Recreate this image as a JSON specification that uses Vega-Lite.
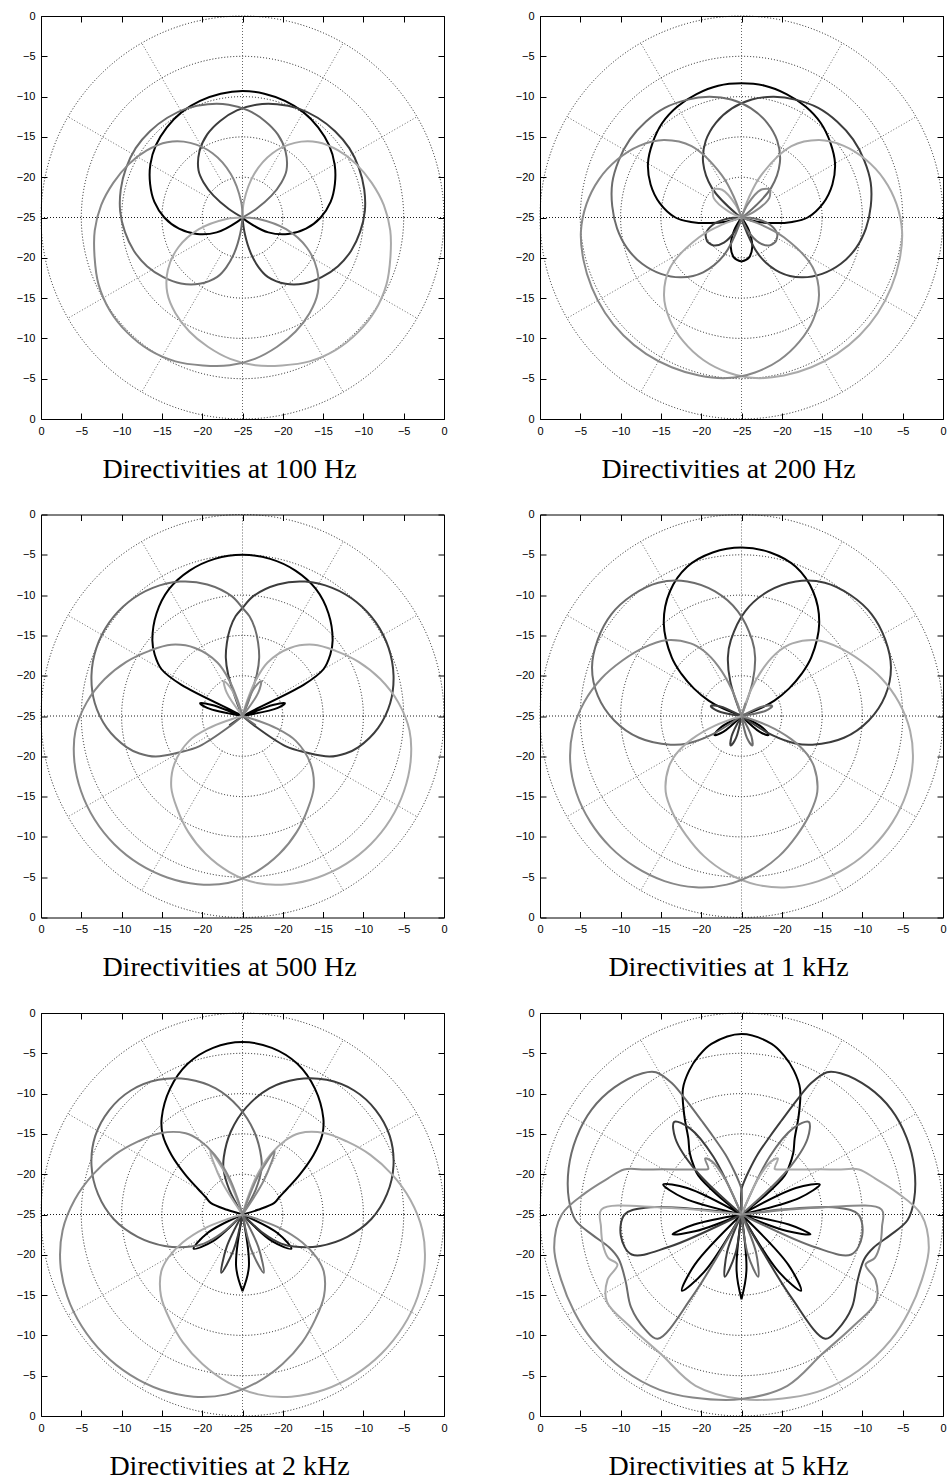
{
"$schema": "https://vega.github.io/schema/vega-lite/v6.json",
"background": "white",
"padding": {"left": 15, "top": 9, "right": 0, "bottom": 0},
"config": {
  "view": {"stroke": "#000000", "strokeWidth": 1},
  "axis": {"labelFont": "Liberation Sans", "labelFontSize": 11, "labelColor": "#000000", "tickColor": "#000000", "tickSize": -6, "tickWidth": 1, "labelPadding": 12, "domain": false, "grid": false, "labelFlush": false, "labelOverlap": false, "labelBound": false},
  "axisBottom": {"titleFont": "Liberation Serif", "titleFontSize": 28, "titleFontWeight": "normal", "titleColor": "#000000", "titleX": 188, "titleY": 58, "titleAlign": "center", "titleBaseline": "alphabetic"}
},
"datasets": {
  "rings": [{"r":5},{"r":10},{"r":15},{"r":20},{"r":25}],
  "spokes": [{"x1":0,"y1":-25,"x2":0,"y2":25},{"x1":-25,"y1":0,"x2":25,"y2":0},
    {"x1":2.5,"y1":4.33,"x2":12.5,"y2":21.65},{"x1":-2.5,"y1":-4.33,"x2":-12.5,"y2":-21.65},
    {"x1":4.33,"y1":2.5,"x2":21.65,"y2":12.5},{"x1":-4.33,"y1":-2.5,"x2":-21.65,"y2":-12.5},
    {"x1":4.33,"y1":-2.5,"x2":21.65,"y2":-12.5},{"x1":-4.33,"y1":2.5,"x2":-21.65,"y2":12.5},
    {"x1":2.5,"y1":-4.33,"x2":12.5,"y2":-21.65},{"x1":-2.5,"y1":4.33,"x2":-12.5,"y2":21.65}],
  "d100": [
{"c":"A","t":-135,"v":-25},{"c":"A","t":-130,"v":-24.2},{"c":"A","t":-120,"v":-21.3},{"c":"A","t":-110,"v":-19},{"c":"A","t":-100,"v":-17},{"c":"A","t":-90,"v":-15.3},{"c":"A","t":-80,"v":-13.9},{"c":"A","t":-70,"v":-12.8},{"c":"A","t":-60,"v":-11.8},{"c":"A","t":-50,"v":-11},{"c":"A","t":-40,"v":-10.4},{"c":"A","t":-30,"v":-9.9},{"c":"A","t":-20,"v":-9.6},{"c":"A","t":-10,"v":-9.4},{"c":"A","t":0,"v":-9.3},{"c":"A","t":10,"v":-9.4},{"c":"A","t":20,"v":-9.6},{"c":"A","t":30,"v":-9.9},{"c":"A","t":40,"v":-10.4},{"c":"A","t":50,"v":-11},{"c":"A","t":60,"v":-11.8},{"c":"A","t":70,"v":-12.8},{"c":"A","t":80,"v":-13.9},{"c":"A","t":90,"v":-15.3},{"c":"A","t":100,"v":-17},{"c":"A","t":110,"v":-19},{"c":"A","t":120,"v":-21.3},{"c":"A","t":130,"v":-24.2},{"c":"A","t":135,"v":-25},
{"c":"B","t":-61,"v":-25},{"c":"B","t":-58,"v":-23},{"c":"B","t":-53,"v":-20.5},{"c":"B","t":-48,"v":-18.5},{"c":"B","t":-43,"v":-17},{"c":"B","t":-33,"v":-15.2},{"c":"B","t":-23,"v":-13.8},{"c":"B","t":-13,"v":-12.7},{"c":"B","t":-3,"v":-11.7},{"c":"B","t":7,"v":-10.9},{"c":"B","t":17,"v":-10.3},{"c":"B","t":27,"v":-9.8},{"c":"B","t":37,"v":-9.5},{"c":"B","t":47,"v":-9.3},{"c":"B","t":57,"v":-9.2},{"c":"B","t":67,"v":-9.3},{"c":"B","t":77,"v":-9.5},{"c":"B","t":87,"v":-9.8},{"c":"B","t":97,"v":-10.3},{"c":"B","t":107,"v":-10.9},{"c":"B","t":117,"v":-11.7},{"c":"B","t":127,"v":-12.7},{"c":"B","t":137,"v":-13.8},{"c":"B","t":147,"v":-15.2},{"c":"B","t":157,"v":-17},{"c":"B","t":162,"v":-18.5},{"c":"B","t":167,"v":-20.5},{"c":"B","t":172,"v":-23},{"c":"B","t":175,"v":-25},
{"c":"Bm","t":61,"v":-25},{"c":"Bm","t":58,"v":-23},{"c":"Bm","t":53,"v":-20.5},{"c":"Bm","t":48,"v":-18.5},{"c":"Bm","t":43,"v":-17},{"c":"Bm","t":33,"v":-15.2},{"c":"Bm","t":23,"v":-13.8},{"c":"Bm","t":13,"v":-12.7},{"c":"Bm","t":3,"v":-11.7},{"c":"Bm","t":-7,"v":-10.9},{"c":"Bm","t":-17,"v":-10.3},{"c":"Bm","t":-27,"v":-9.8},{"c":"Bm","t":-37,"v":-9.5},{"c":"Bm","t":-47,"v":-9.3},{"c":"Bm","t":-57,"v":-9.2},{"c":"Bm","t":-67,"v":-9.3},{"c":"Bm","t":-77,"v":-9.5},{"c":"Bm","t":-87,"v":-9.8},{"c":"Bm","t":-97,"v":-10.3},{"c":"Bm","t":-107,"v":-10.9},{"c":"Bm","t":-117,"v":-11.7},{"c":"Bm","t":-127,"v":-12.7},{"c":"Bm","t":-137,"v":-13.8},{"c":"Bm","t":-147,"v":-15.2},{"c":"Bm","t":-157,"v":-17},{"c":"Bm","t":-162,"v":-18.5},{"c":"Bm","t":-167,"v":-20.5},{"c":"Bm","t":-172,"v":-23},{"c":"Bm","t":-175,"v":-25},
{"c":"C","t":0,"v":-25},{"c":"C","t":5,"v":-23},{"c":"C","t":15,"v":-19.4},{"c":"C","t":25,"v":-16.2},{"c":"C","t":35,"v":-13.7},{"c":"C","t":45,"v":-11.8},{"c":"C","t":55,"v":-10.5},{"c":"C","t":65,"v":-9.4},{"c":"C","t":75,"v":-8.4},{"c":"C","t":85,"v":-7.4},{"c":"C","t":95,"v":-6.6},{"c":"C","t":105,"v":-6},{"c":"C","t":115,"v":-5.3},{"c":"C","t":125,"v":-4.9},{"c":"C","t":135,"v":-4.8},{"c":"C","t":145,"v":-4.9},{"c":"C","t":155,"v":-5.3},{"c":"C","t":165,"v":-6},{"c":"C","t":175,"v":-6.6},{"c":"C","t":185,"v":-7.4},{"c":"C","t":195,"v":-8.4},{"c":"C","t":205,"v":-9.4},{"c":"C","t":215,"v":-10.5},{"c":"C","t":225,"v":-11.8},{"c":"C","t":235,"v":-13.7},{"c":"C","t":245,"v":-16.2},{"c":"C","t":255,"v":-19.4},{"c":"C","t":265,"v":-23},{"c":"C","t":270,"v":-25},
{"c":"Cm","t":0,"v":-25},{"c":"Cm","t":-5,"v":-23},{"c":"Cm","t":-15,"v":-19.4},{"c":"Cm","t":-25,"v":-16.2},{"c":"Cm","t":-35,"v":-13.7},{"c":"Cm","t":-45,"v":-11.8},{"c":"Cm","t":-55,"v":-10.5},{"c":"Cm","t":-65,"v":-9.4},{"c":"Cm","t":-75,"v":-8.4},{"c":"Cm","t":-85,"v":-7.4},{"c":"Cm","t":-95,"v":-6.6},{"c":"Cm","t":-105,"v":-6},{"c":"Cm","t":-115,"v":-5.3},{"c":"Cm","t":-125,"v":-4.9},{"c":"Cm","t":-135,"v":-4.8},{"c":"Cm","t":-145,"v":-4.9},{"c":"Cm","t":-155,"v":-5.3},{"c":"Cm","t":-165,"v":-6},{"c":"Cm","t":-175,"v":-6.6},{"c":"Cm","t":-185,"v":-7.4},{"c":"Cm","t":-195,"v":-8.4},{"c":"Cm","t":-205,"v":-9.4},{"c":"Cm","t":-215,"v":-10.5},{"c":"Cm","t":-225,"v":-11.8},{"c":"Cm","t":-235,"v":-13.7},{"c":"Cm","t":-245,"v":-16.2},{"c":"Cm","t":-255,"v":-19.4},{"c":"Cm","t":-265,"v":-23},{"c":"Cm","t":-270,"v":-25}
  ],
  "d200": [
{"c":"A","t":-180,"v":-19.55},{"c":"A","t":-170,"v":-19.9},{"c":"A","t":-160,"v":-21.1},{"c":"A","t":-150,"v":-23.2},{"c":"A","t":-145,"v":-25},{"c":"A","t":-110,"v":-25},{"c":"A","t":-105,"v":-23},{"c":"A","t":-100,"v":-21},{"c":"A","t":-95,"v":-18.7},{"c":"A","t":-90,"v":-16.8},{"c":"A","t":-80,"v":-14.7},{"c":"A","t":-70,"v":-13},{"c":"A","t":-60,"v":-11.6},{"c":"A","t":-50,"v":-10.6},{"c":"A","t":-40,"v":-9.7},{"c":"A","t":-30,"v":-9.1},{"c":"A","t":-20,"v":-8.7},{"c":"A","t":-10,"v":-8.4},{"c":"A","t":0,"v":-8.35},{"c":"A","t":10,"v":-8.4},{"c":"A","t":20,"v":-8.7},{"c":"A","t":30,"v":-9.1},{"c":"A","t":40,"v":-9.7},{"c":"A","t":50,"v":-10.6},{"c":"A","t":60,"v":-11.6},{"c":"A","t":70,"v":-13},{"c":"A","t":80,"v":-14.7},{"c":"A","t":90,"v":-16.8},{"c":"A","t":95,"v":-18.7},{"c":"A","t":100,"v":-21},{"c":"A","t":105,"v":-23},{"c":"A","t":110,"v":-25},{"c":"A","t":145,"v":-25},{"c":"A","t":150,"v":-23.2},{"c":"A","t":160,"v":-21.1},{"c":"A","t":170,"v":-19.9},{"c":"A","t":180,"v":-19.55},
{"c":"B","t":-125,"v":-19.8},{"c":"B","t":-115,"v":-20.1},{"c":"B","t":-105,"v":-21.2},{"c":"B","t":-95,"v":-23.2},{"c":"B","t":-90,"v":-25},{"c":"B","t":-58,"v":-25},{"c":"B","t":-55,"v":-24.3},{"c":"B","t":-45,"v":-19.8},{"c":"B","t":-35,"v":-16.7},{"c":"B","t":-25,"v":-14.5},{"c":"B","t":-15,"v":-12.8},{"c":"B","t":-5,"v":-11.4},{"c":"B","t":5,"v":-10.3},{"c":"B","t":15,"v":-9.5},{"c":"B","t":25,"v":-8.9},{"c":"B","t":35,"v":-8.4},{"c":"B","t":45,"v":-8.2},{"c":"B","t":55,"v":-8.1},{"c":"B","t":65,"v":-8.2},{"c":"B","t":75,"v":-8.4},{"c":"B","t":85,"v":-8.9},{"c":"B","t":95,"v":-9.5},{"c":"B","t":105,"v":-10.3},{"c":"B","t":115,"v":-11.4},{"c":"B","t":125,"v":-12.8},{"c":"B","t":135,"v":-14.5},{"c":"B","t":145,"v":-16.7},{"c":"B","t":155,"v":-19.8},{"c":"B","t":165,"v":-24.3},{"c":"B","t":168,"v":-25},{"c":"B","t":200,"v":-25},{"c":"B","t":205,"v":-23.2},{"c":"B","t":215,"v":-21.2},{"c":"B","t":225,"v":-20.1},{"c":"B","t":235,"v":-19.8},
{"c":"Bm","t":125,"v":-19.8},{"c":"Bm","t":115,"v":-20.1},{"c":"Bm","t":105,"v":-21.2},{"c":"Bm","t":95,"v":-23.2},{"c":"Bm","t":90,"v":-25},{"c":"Bm","t":58,"v":-25},{"c":"Bm","t":55,"v":-24.3},{"c":"Bm","t":45,"v":-19.8},{"c":"Bm","t":35,"v":-16.7},{"c":"Bm","t":25,"v":-14.5},{"c":"Bm","t":15,"v":-12.8},{"c":"Bm","t":5,"v":-11.4},{"c":"Bm","t":-5,"v":-10.3},{"c":"Bm","t":-15,"v":-9.5},{"c":"Bm","t":-25,"v":-8.9},{"c":"Bm","t":-35,"v":-8.4},{"c":"Bm","t":-45,"v":-8.2},{"c":"Bm","t":-55,"v":-8.1},{"c":"Bm","t":-65,"v":-8.2},{"c":"Bm","t":-75,"v":-8.4},{"c":"Bm","t":-85,"v":-8.9},{"c":"Bm","t":-95,"v":-9.5},{"c":"Bm","t":-105,"v":-10.3},{"c":"Bm","t":-115,"v":-11.4},{"c":"Bm","t":-125,"v":-12.8},{"c":"Bm","t":-135,"v":-14.5},{"c":"Bm","t":-145,"v":-16.7},{"c":"Bm","t":-155,"v":-19.8},{"c":"Bm","t":-165,"v":-24.3},{"c":"Bm","t":-168,"v":-25},{"c":"Bm","t":-200,"v":-25},{"c":"Bm","t":-205,"v":-23.2},{"c":"Bm","t":-215,"v":-21.2},{"c":"Bm","t":-225,"v":-20.1},{"c":"Bm","t":-235,"v":-19.8},
{"c":"C","t":-45,"v":-20},{"c":"C","t":-35,"v":-20.8},{"c":"C","t":-25,"v":-23.2},{"c":"C","t":-20,"v":-25},{"c":"C","t":17,"v":-25},{"c":"C","t":20,"v":-22.5},{"c":"C","t":25,"v":-19.2},{"c":"C","t":35,"v":-14.2},{"c":"C","t":45,"v":-11.4},{"c":"C","t":55,"v":-9.5},{"c":"C","t":65,"v":-8},{"c":"C","t":75,"v":-6.7},{"c":"C","t":85,"v":-5.7},{"c":"C","t":95,"v":-5},{"c":"C","t":105,"v":-4.7},{"c":"C","t":115,"v":-4.5},{"c":"C","t":125,"v":-4.35},{"c":"C","t":135,"v":-4.3},{"c":"C","t":145,"v":-4.35},{"c":"C","t":155,"v":-4.5},{"c":"C","t":165,"v":-4.7},{"c":"C","t":175,"v":-5},{"c":"C","t":185,"v":-5.7},{"c":"C","t":195,"v":-6.7},{"c":"C","t":205,"v":-8},{"c":"C","t":215,"v":-9.5},{"c":"C","t":225,"v":-11.4},{"c":"C","t":235,"v":-14.2},{"c":"C","t":245,"v":-19.2},{"c":"C","t":250,"v":-22.5},{"c":"C","t":253,"v":-25},{"c":"C","t":290,"v":-25},{"c":"C","t":295,"v":-23.2},{"c":"C","t":305,"v":-20.8},{"c":"C","t":315,"v":-20},
{"c":"Cm","t":45,"v":-20},{"c":"Cm","t":35,"v":-20.8},{"c":"Cm","t":25,"v":-23.2},{"c":"Cm","t":20,"v":-25},{"c":"Cm","t":-17,"v":-25},{"c":"Cm","t":-20,"v":-22.5},{"c":"Cm","t":-25,"v":-19.2},{"c":"Cm","t":-35,"v":-14.2},{"c":"Cm","t":-45,"v":-11.4},{"c":"Cm","t":-55,"v":-9.5},{"c":"Cm","t":-65,"v":-8},{"c":"Cm","t":-75,"v":-6.7},{"c":"Cm","t":-85,"v":-5.7},{"c":"Cm","t":-95,"v":-5},{"c":"Cm","t":-105,"v":-4.7},{"c":"Cm","t":-115,"v":-4.5},{"c":"Cm","t":-125,"v":-4.35},{"c":"Cm","t":-135,"v":-4.3},{"c":"Cm","t":-145,"v":-4.35},{"c":"Cm","t":-155,"v":-4.5},{"c":"Cm","t":-165,"v":-4.7},{"c":"Cm","t":-175,"v":-5},{"c":"Cm","t":-185,"v":-5.7},{"c":"Cm","t":-195,"v":-6.7},{"c":"Cm","t":-205,"v":-8},{"c":"Cm","t":-215,"v":-9.5},{"c":"Cm","t":-225,"v":-11.4},{"c":"Cm","t":-235,"v":-14.2},{"c":"Cm","t":-245,"v":-19.2},{"c":"Cm","t":-250,"v":-22.5},{"c":"Cm","t":-253,"v":-25},{"c":"Cm","t":-290,"v":-25},{"c":"Cm","t":-295,"v":-23.2},{"c":"Cm","t":-305,"v":-20.8},{"c":"Cm","t":-315,"v":-20}
  ],
  "d500": [
{"c":"A","t":-82,"v":-25},{"c":"A","t":-77,"v":-20.5},{"c":"A","t":-73,"v":-19.5},{"c":"A","t":-70,"v":-21},{"c":"A","t":-66,"v":-25},{"c":"A","t":-63,"v":-16.5},{"c":"A","t":-60,"v":-13.4},{"c":"A","t":-55,"v":-11.7},{"c":"A","t":-50,"v":-10.4},{"c":"A","t":-40,"v":-8.4},{"c":"A","t":-30,"v":-6.8},{"c":"A","t":-20,"v":-5.8},{"c":"A","t":-10,"v":-5.2},{"c":"A","t":0,"v":-5},{"c":"A","t":10,"v":-5.2},{"c":"A","t":20,"v":-5.8},{"c":"A","t":30,"v":-6.8},{"c":"A","t":40,"v":-8.4},{"c":"A","t":50,"v":-10.4},{"c":"A","t":55,"v":-11.7},{"c":"A","t":60,"v":-13.4},{"c":"A","t":63,"v":-16.5},{"c":"A","t":66,"v":-25},{"c":"A","t":70,"v":-21},{"c":"A","t":73,"v":-19.5},{"c":"A","t":77,"v":-20.5},{"c":"A","t":82,"v":-25},
{"c":"B","t":-24,"v":-25},{"c":"B","t":-22,"v":-23},{"c":"B","t":-19,"v":-19.5},{"c":"B","t":-16,"v":-17.5},{"c":"B","t":-12,"v":-15.7},{"c":"B","t":-8,"v":-14},{"c":"B","t":-4,"v":-12.6},{"c":"B","t":0,"v":-11.6},{"c":"B","t":5,"v":-10.1},{"c":"B","t":15,"v":-8.1},{"c":"B","t":25,"v":-6.6},{"c":"B","t":35,"v":-5.6},{"c":"B","t":45,"v":-5},{"c":"B","t":55,"v":-4.8},{"c":"B","t":65,"v":-5},{"c":"B","t":75,"v":-5.6},{"c":"B","t":85,"v":-6.6},{"c":"B","t":95,"v":-8.1},{"c":"B","t":105,"v":-10.1},{"c":"B","t":110,"v":-11.4},{"c":"B","t":115,"v":-13.1},{"c":"B","t":120,"v":-16},{"c":"B","t":125,"v":-18.5},{"c":"B","t":129,"v":-23},{"c":"B","t":131,"v":-25},{"c":"B","t":222,"v":-25},{"c":"B","t":235,"v":-23},{"c":"B","t":248,"v":-25},
{"c":"Bm","t":24,"v":-25},{"c":"Bm","t":22,"v":-23},{"c":"Bm","t":19,"v":-19.5},{"c":"Bm","t":16,"v":-17.5},{"c":"Bm","t":12,"v":-15.7},{"c":"Bm","t":8,"v":-14},{"c":"Bm","t":4,"v":-12.6},{"c":"Bm","t":0,"v":-11.6},{"c":"Bm","t":-5,"v":-10.1},{"c":"Bm","t":-15,"v":-8.1},{"c":"Bm","t":-25,"v":-6.6},{"c":"Bm","t":-35,"v":-5.6},{"c":"Bm","t":-45,"v":-5},{"c":"Bm","t":-55,"v":-4.8},{"c":"Bm","t":-65,"v":-5},{"c":"Bm","t":-75,"v":-5.6},{"c":"Bm","t":-85,"v":-6.6},{"c":"Bm","t":-95,"v":-8.1},{"c":"Bm","t":-105,"v":-10.1},{"c":"Bm","t":-110,"v":-11.4},{"c":"Bm","t":-115,"v":-13.1},{"c":"Bm","t":-120,"v":-16},{"c":"Bm","t":-125,"v":-18.5},{"c":"Bm","t":-129,"v":-23},{"c":"Bm","t":-131,"v":-25},{"c":"Bm","t":-222,"v":-25},{"c":"Bm","t":-235,"v":-23},{"c":"Bm","t":-248,"v":-25},
{"c":"C","t":-40,"v":-25},{"c":"C","t":-34,"v":-21.5},{"c":"C","t":-28,"v":-20.1},{"c":"C","t":-22,"v":-21.5},{"c":"C","t":-16,"v":-25},{"c":"C","t":15,"v":-25},{"c":"C","t":17,"v":-23},{"c":"C","t":20,"v":-20.5},{"c":"C","t":25,"v":-17.7},{"c":"C","t":35,"v":-14.7},{"c":"C","t":45,"v":-12.5},{"c":"C","t":55,"v":-10.9},{"c":"C","t":65,"v":-9.1},{"c":"C","t":75,"v":-7.3},{"c":"C","t":85,"v":-5.6},{"c":"C","t":95,"v":-4.2},{"c":"C","t":105,"v":-3.4},{"c":"C","t":115,"v":-2.9},{"c":"C","t":125,"v":-2.6},{"c":"C","t":135,"v":-2.5},{"c":"C","t":145,"v":-2.6},{"c":"C","t":155,"v":-2.9},{"c":"C","t":165,"v":-3.4},{"c":"C","t":175,"v":-4.2},{"c":"C","t":185,"v":-5.6},{"c":"C","t":195,"v":-7.3},{"c":"C","t":205,"v":-9.1},{"c":"C","t":215,"v":-10.9},{"c":"C","t":225,"v":-12.5},{"c":"C","t":235,"v":-14.7},{"c":"C","t":245,"v":-17.7},{"c":"C","t":250,"v":-20.5},{"c":"C","t":253,"v":-23},{"c":"C","t":255,"v":-25},
{"c":"Cm","t":40,"v":-25},{"c":"Cm","t":34,"v":-21.5},{"c":"Cm","t":28,"v":-20.1},{"c":"Cm","t":22,"v":-21.5},{"c":"Cm","t":16,"v":-25},{"c":"Cm","t":-15,"v":-25},{"c":"Cm","t":-17,"v":-23},{"c":"Cm","t":-20,"v":-20.5},{"c":"Cm","t":-25,"v":-17.7},{"c":"Cm","t":-35,"v":-14.7},{"c":"Cm","t":-45,"v":-12.5},{"c":"Cm","t":-55,"v":-10.9},{"c":"Cm","t":-65,"v":-9.1},{"c":"Cm","t":-75,"v":-7.3},{"c":"Cm","t":-85,"v":-5.6},{"c":"Cm","t":-95,"v":-4.2},{"c":"Cm","t":-105,"v":-3.4},{"c":"Cm","t":-115,"v":-2.9},{"c":"Cm","t":-125,"v":-2.6},{"c":"Cm","t":-135,"v":-2.5},{"c":"Cm","t":-145,"v":-2.6},{"c":"Cm","t":-155,"v":-2.9},{"c":"Cm","t":-165,"v":-3.4},{"c":"Cm","t":-175,"v":-4.2},{"c":"Cm","t":-185,"v":-5.6},{"c":"Cm","t":-195,"v":-7.3},{"c":"Cm","t":-205,"v":-9.1},{"c":"Cm","t":-215,"v":-10.9},{"c":"Cm","t":-225,"v":-12.5},{"c":"Cm","t":-235,"v":-14.7},{"c":"Cm","t":-245,"v":-17.7},{"c":"Cm","t":-250,"v":-20.5},{"c":"Cm","t":-253,"v":-23},{"c":"Cm","t":-255,"v":-25}
  ],
  "d1k": [
{"c":"A","t":-137,"v":-25},{"c":"A","t":-131,"v":-22},{"c":"A","t":-125,"v":-20.9},{"c":"A","t":-119,"v":-22},{"c":"A","t":-113,"v":-25},{"c":"A","t":-72,"v":-25},{"c":"A","t":-68,"v":-22.5},{"c":"A","t":-65,"v":-20.5},{"c":"A","t":-60,"v":-18.2},{"c":"A","t":-55,"v":-15.9},{"c":"A","t":-50,"v":-13.7},{"c":"A","t":-40,"v":-10},{"c":"A","t":-30,"v":-7.2},{"c":"A","t":-20,"v":-5.3},{"c":"A","t":-10,"v":-4.4},{"c":"A","t":0,"v":-4.1},{"c":"A","t":10,"v":-4.4},{"c":"A","t":20,"v":-5.3},{"c":"A","t":30,"v":-7.2},{"c":"A","t":40,"v":-10},{"c":"A","t":50,"v":-13.7},{"c":"A","t":55,"v":-15.9},{"c":"A","t":60,"v":-18.2},{"c":"A","t":65,"v":-20.5},{"c":"A","t":68,"v":-22.5},{"c":"A","t":72,"v":-25},{"c":"A","t":113,"v":-25},{"c":"A","t":119,"v":-22},{"c":"A","t":125,"v":-20.9},{"c":"A","t":131,"v":-22},{"c":"A","t":137,"v":-25},
{"c":"B","t":-84,"v":-25},{"c":"B","t":-78,"v":-22},{"c":"B","t":-72,"v":-21},{"c":"B","t":-66,"v":-22},{"c":"B","t":-60,"v":-25},{"c":"B","t":-23,"v":-25},{"c":"B","t":-18,"v":-20.5},{"c":"B","t":-13,"v":-17.5},{"c":"B","t":-8,"v":-15.5},{"c":"B","t":2,"v":-12},{"c":"B","t":12,"v":-9.2},{"c":"B","t":22,"v":-7},{"c":"B","t":32,"v":-5.5},{"c":"B","t":42,"v":-4.8},{"c":"B","t":52,"v":-4.5},{"c":"B","t":62,"v":-4.8},{"c":"B","t":72,"v":-5.5},{"c":"B","t":82,"v":-7},{"c":"B","t":92,"v":-9.2},{"c":"B","t":102,"v":-12},{"c":"B","t":112,"v":-15.5},{"c":"B","t":117,"v":-17.5},{"c":"B","t":122,"v":-20.5},{"c":"B","t":127,"v":-25},{"c":"B","t":188,"v":-25},{"c":"B","t":194,"v":-22.2},{"c":"B","t":200,"v":-21.1},{"c":"B","t":206,"v":-22.2},{"c":"B","t":212,"v":-25},
{"c":"Bm","t":84,"v":-25},{"c":"Bm","t":78,"v":-22},{"c":"Bm","t":72,"v":-21},{"c":"Bm","t":66,"v":-22},{"c":"Bm","t":60,"v":-25},{"c":"Bm","t":23,"v":-25},{"c":"Bm","t":18,"v":-20.5},{"c":"Bm","t":13,"v":-17.5},{"c":"Bm","t":8,"v":-15.5},{"c":"Bm","t":-2,"v":-12},{"c":"Bm","t":-12,"v":-9.2},{"c":"Bm","t":-22,"v":-7},{"c":"Bm","t":-32,"v":-5.5},{"c":"Bm","t":-42,"v":-4.8},{"c":"Bm","t":-52,"v":-4.5},{"c":"Bm","t":-62,"v":-4.8},{"c":"Bm","t":-72,"v":-5.5},{"c":"Bm","t":-82,"v":-7},{"c":"Bm","t":-92,"v":-9.2},{"c":"Bm","t":-102,"v":-12},{"c":"Bm","t":-112,"v":-15.5},{"c":"Bm","t":-117,"v":-17.5},{"c":"Bm","t":-122,"v":-20.5},{"c":"Bm","t":-127,"v":-25},{"c":"Bm","t":-188,"v":-25},{"c":"Bm","t":-194,"v":-22.2},{"c":"Bm","t":-200,"v":-21.1},{"c":"Bm","t":-206,"v":-22.2},{"c":"Bm","t":-212,"v":-25},
{"c":"C","t":-24,"v":-25},{"c":"C","t":-17,"v":-23.3},{"c":"C","t":-10,"v":-25},{"c":"C","t":17,"v":-25},{"c":"C","t":20,"v":-21.5},{"c":"C","t":25,"v":-18.2},{"c":"C","t":30,"v":-15.7},{"c":"C","t":35,"v":-14},{"c":"C","t":45,"v":-11.7},{"c":"C","t":55,"v":-10.2},{"c":"C","t":65,"v":-8.7},{"c":"C","t":75,"v":-7},{"c":"C","t":85,"v":-5.4},{"c":"C","t":95,"v":-4},{"c":"C","t":105,"v":-3},{"c":"C","t":115,"v":-2.4},{"c":"C","t":125,"v":-2.1},{"c":"C","t":135,"v":-2},{"c":"C","t":145,"v":-2.1},{"c":"C","t":155,"v":-2.4},{"c":"C","t":165,"v":-3},{"c":"C","t":175,"v":-4},{"c":"C","t":185,"v":-5.4},{"c":"C","t":195,"v":-7},{"c":"C","t":205,"v":-8.7},{"c":"C","t":215,"v":-10.2},{"c":"C","t":225,"v":-11.7},{"c":"C","t":235,"v":-14},{"c":"C","t":240,"v":-15.7},{"c":"C","t":245,"v":-18.2},{"c":"C","t":250,"v":-21.5},{"c":"C","t":253,"v":-25},
{"c":"Cm","t":24,"v":-25},{"c":"Cm","t":17,"v":-23.3},{"c":"Cm","t":10,"v":-25},{"c":"Cm","t":-17,"v":-25},{"c":"Cm","t":-20,"v":-21.5},{"c":"Cm","t":-25,"v":-18.2},{"c":"Cm","t":-30,"v":-15.7},{"c":"Cm","t":-35,"v":-14},{"c":"Cm","t":-45,"v":-11.7},{"c":"Cm","t":-55,"v":-10.2},{"c":"Cm","t":-65,"v":-8.7},{"c":"Cm","t":-75,"v":-7},{"c":"Cm","t":-85,"v":-5.4},{"c":"Cm","t":-95,"v":-4},{"c":"Cm","t":-105,"v":-3},{"c":"Cm","t":-115,"v":-2.4},{"c":"Cm","t":-125,"v":-2.1},{"c":"Cm","t":-135,"v":-2},{"c":"Cm","t":-145,"v":-2.1},{"c":"Cm","t":-155,"v":-2.4},{"c":"Cm","t":-165,"v":-3},{"c":"Cm","t":-175,"v":-4},{"c":"Cm","t":-185,"v":-5.4},{"c":"Cm","t":-195,"v":-7},{"c":"Cm","t":-205,"v":-8.7},{"c":"Cm","t":-215,"v":-10.2},{"c":"Cm","t":-225,"v":-11.7},{"c":"Cm","t":-235,"v":-14},{"c":"Cm","t":-240,"v":-15.7},{"c":"Cm","t":-245,"v":-18.2},{"c":"Cm","t":-250,"v":-21.5},{"c":"Cm","t":-253,"v":-25}
  ],
  "d2k": [
{"c":"A","t":-180,"v":-15.5},{"c":"A","t":-173,"v":-18.5},{"c":"A","t":-166,"v":-25},{"c":"A","t":-139,"v":-25},{"c":"A","t":-132,"v":-20},{"c":"A","t":-125,"v":-17.6},{"c":"A","t":-118,"v":-20},{"c":"A","t":-111,"v":-25},{"c":"A","t":-76,"v":-25},{"c":"A","t":-73,"v":-23},{"c":"A","t":-70,"v":-20.8},{"c":"A","t":-65,"v":-20},{"c":"A","t":-60,"v":-18.6},{"c":"A","t":-55,"v":-16.3},{"c":"A","t":-50,"v":-13.5},{"c":"A","t":-45,"v":-11},{"c":"A","t":-40,"v":-9.4},{"c":"A","t":-30,"v":-7},{"c":"A","t":-20,"v":-5.1},{"c":"A","t":-10,"v":-4},{"c":"A","t":0,"v":-3.6},{"c":"A","t":10,"v":-4},{"c":"A","t":20,"v":-5.1},{"c":"A","t":30,"v":-7},{"c":"A","t":40,"v":-9.4},{"c":"A","t":45,"v":-11},{"c":"A","t":50,"v":-13.5},{"c":"A","t":55,"v":-16.3},{"c":"A","t":60,"v":-18.6},{"c":"A","t":65,"v":-20},{"c":"A","t":70,"v":-20.8},{"c":"A","t":73,"v":-23},{"c":"A","t":76,"v":-25},{"c":"A","t":111,"v":-25},{"c":"A","t":118,"v":-20},{"c":"A","t":125,"v":-17.6},{"c":"A","t":132,"v":-20},{"c":"A","t":139,"v":-25},{"c":"A","t":166,"v":-25},{"c":"A","t":173,"v":-18.5},{"c":"A","t":180,"v":-15.5},
{"c":"B","t":-32,"v":-25},{"c":"B","t":-28,"v":-21.5},{"c":"B","t":-23,"v":-19},{"c":"B","t":-18,"v":-17.5},{"c":"B","t":-8,"v":-14.6},{"c":"B","t":2,"v":-11.7},{"c":"B","t":12,"v":-9},{"c":"B","t":22,"v":-6.9},{"c":"B","t":32,"v":-5.3},{"c":"B","t":42,"v":-4.3},{"c":"B","t":52,"v":-4},{"c":"B","t":62,"v":-4.3},{"c":"B","t":72,"v":-5.3},{"c":"B","t":82,"v":-6.9},{"c":"B","t":92,"v":-9},{"c":"B","t":102,"v":-11.7},{"c":"B","t":112,"v":-14.6},{"c":"B","t":122,"v":-17.5},{"c":"B","t":127,"v":-19},{"c":"B","t":132,"v":-21.5},{"c":"B","t":136,"v":-25},{"c":"B","t":188,"v":-25},{"c":"B","t":194,"v":-20.5},{"c":"B","t":200,"v":-17.3},{"c":"B","t":206,"v":-20.5},{"c":"B","t":212,"v":-25},
{"c":"Bm","t":32,"v":-25},{"c":"Bm","t":28,"v":-21.5},{"c":"Bm","t":23,"v":-19},{"c":"Bm","t":18,"v":-17.5},{"c":"Bm","t":8,"v":-14.6},{"c":"Bm","t":-2,"v":-11.7},{"c":"Bm","t":-12,"v":-9},{"c":"Bm","t":-22,"v":-6.9},{"c":"Bm","t":-32,"v":-5.3},{"c":"Bm","t":-42,"v":-4.3},{"c":"Bm","t":-52,"v":-4},{"c":"Bm","t":-62,"v":-4.3},{"c":"Bm","t":-72,"v":-5.3},{"c":"Bm","t":-82,"v":-6.9},{"c":"Bm","t":-92,"v":-9},{"c":"Bm","t":-102,"v":-11.7},{"c":"Bm","t":-112,"v":-14.6},{"c":"Bm","t":-122,"v":-17.5},{"c":"Bm","t":-127,"v":-19},{"c":"Bm","t":-132,"v":-21.5},{"c":"Bm","t":-136,"v":-25},{"c":"Bm","t":-188,"v":-25},{"c":"Bm","t":-194,"v":-20.5},{"c":"Bm","t":-200,"v":-17.3},{"c":"Bm","t":-206,"v":-20.5},{"c":"Bm","t":-212,"v":-25},
{"c":"C","t":-37,"v":-25},{"c":"C","t":-32,"v":-20},{"c":"C","t":-27,"v":-16.2},{"c":"C","t":-22,"v":-20},{"c":"C","t":-17,"v":-25},{"c":"C","t":15,"v":-25},{"c":"C","t":17,"v":-23},{"c":"C","t":20,"v":-20},{"c":"C","t":25,"v":-16.8},{"c":"C","t":30,"v":-14.4},{"c":"C","t":35,"v":-12.7},{"c":"C","t":45,"v":-10.7},{"c":"C","t":55,"v":-9.2},{"c":"C","t":65,"v":-7.5},{"c":"C","t":75,"v":-5.8},{"c":"C","t":85,"v":-4.1},{"c":"C","t":95,"v":-2.6},{"c":"C","t":105,"v":-1.6},{"c":"C","t":115,"v":-1},{"c":"C","t":125,"v":-0.7},{"c":"C","t":135,"v":-0.6},{"c":"C","t":145,"v":-0.7},{"c":"C","t":155,"v":-1},{"c":"C","t":165,"v":-1.6},{"c":"C","t":175,"v":-2.6},{"c":"C","t":185,"v":-4.1},{"c":"C","t":195,"v":-5.8},{"c":"C","t":205,"v":-7.5},{"c":"C","t":215,"v":-9.2},{"c":"C","t":225,"v":-10.7},{"c":"C","t":235,"v":-12.7},{"c":"C","t":240,"v":-14.4},{"c":"C","t":245,"v":-16.8},{"c":"C","t":250,"v":-20},{"c":"C","t":253,"v":-23},{"c":"C","t":255,"v":-25},
{"c":"Cm","t":37,"v":-25},{"c":"Cm","t":32,"v":-20},{"c":"Cm","t":27,"v":-16.2},{"c":"Cm","t":22,"v":-20},{"c":"Cm","t":17,"v":-25},{"c":"Cm","t":-15,"v":-25},{"c":"Cm","t":-17,"v":-23},{"c":"Cm","t":-20,"v":-20},{"c":"Cm","t":-25,"v":-16.8},{"c":"Cm","t":-30,"v":-14.4},{"c":"Cm","t":-35,"v":-12.7},{"c":"Cm","t":-45,"v":-10.7},{"c":"Cm","t":-55,"v":-9.2},{"c":"Cm","t":-65,"v":-7.5},{"c":"Cm","t":-75,"v":-5.8},{"c":"Cm","t":-85,"v":-4.1},{"c":"Cm","t":-95,"v":-2.6},{"c":"Cm","t":-105,"v":-1.6},{"c":"Cm","t":-115,"v":-1},{"c":"Cm","t":-125,"v":-0.7},{"c":"Cm","t":-135,"v":-0.6},{"c":"Cm","t":-145,"v":-0.7},{"c":"Cm","t":-155,"v":-1},{"c":"Cm","t":-165,"v":-1.6},{"c":"Cm","t":-175,"v":-2.6},{"c":"Cm","t":-185,"v":-4.1},{"c":"Cm","t":-195,"v":-5.8},{"c":"Cm","t":-205,"v":-7.5},{"c":"Cm","t":-215,"v":-9.2},{"c":"Cm","t":-225,"v":-10.7},{"c":"Cm","t":-235,"v":-12.7},{"c":"Cm","t":-240,"v":-14.4},{"c":"Cm","t":-245,"v":-16.8},{"c":"Cm","t":-250,"v":-20},{"c":"Cm","t":-253,"v":-23},{"c":"Cm","t":-255,"v":-25}
  ],
  "d5k": [
{"c":"A","t":-180,"v":-14.5},{"c":"A","t":-175,"v":-18},{"c":"A","t":-170,"v":-25},{"c":"A","t":-152,"v":-25},{"c":"A","t":-147,"v":-16.5},{"c":"A","t":-142,"v":-13},{"c":"A","t":-137,"v":-16.5},{"c":"A","t":-132,"v":-25},{"c":"A","t":-114,"v":-25},{"c":"A","t":-110,"v":-19},{"c":"A","t":-106,"v":-16.1},{"c":"A","t":-102,"v":-19},{"c":"A","t":-98,"v":-25},{"c":"A","t":-79,"v":-25},{"c":"A","t":-74,"v":-17.5},{"c":"A","t":-69,"v":-14.6},{"c":"A","t":-64,"v":-17.5},{"c":"A","t":-59,"v":-25},{"c":"A","t":-53,"v":-25},{"c":"A","t":-51,"v":-21},{"c":"A","t":-48,"v":-17.8},{"c":"A","t":-45,"v":-16.7},{"c":"A","t":-40,"v":-15},{"c":"A","t":-35,"v":-13.5},{"c":"A","t":-30,"v":-10.8},{"c":"A","t":-25,"v":-7.8},{"c":"A","t":-20,"v":-6},{"c":"A","t":-15,"v":-4.6},{"c":"A","t":-10,"v":-3.5},{"c":"A","t":0,"v":-2.6},{"c":"A","t":10,"v":-3.5},{"c":"A","t":15,"v":-4.6},{"c":"A","t":20,"v":-6},{"c":"A","t":25,"v":-7.8},{"c":"A","t":30,"v":-10.8},{"c":"A","t":35,"v":-13.5},{"c":"A","t":40,"v":-15},{"c":"A","t":45,"v":-16.7},{"c":"A","t":48,"v":-17.8},{"c":"A","t":51,"v":-21},{"c":"A","t":53,"v":-25},{"c":"A","t":59,"v":-25},{"c":"A","t":64,"v":-17.5},{"c":"A","t":69,"v":-14.6},{"c":"A","t":74,"v":-17.5},{"c":"A","t":79,"v":-25},{"c":"A","t":98,"v":-25},{"c":"A","t":102,"v":-19},{"c":"A","t":106,"v":-16.1},{"c":"A","t":110,"v":-19},{"c":"A","t":114,"v":-25},{"c":"A","t":132,"v":-25},{"c":"A","t":137,"v":-16.5},{"c":"A","t":142,"v":-13},{"c":"A","t":147,"v":-16.5},{"c":"A","t":152,"v":-25},{"c":"A","t":170,"v":-25},{"c":"A","t":175,"v":-18},{"c":"A","t":180,"v":-14.5},
{"c":"B","t":-118,"v":-25},{"c":"B","t":-114,"v":-15},{"c":"B","t":-110,"v":-10.5},{"c":"B","t":-100,"v":-9.8},{"c":"B","t":-90,"v":-10.5},{"c":"B","t":-86,"v":-13},{"c":"B","t":-83,"v":-20},{"c":"B","t":-80,"v":-25},{"c":"B","t":-52,"v":-25},{"c":"B","t":-46,"v":-17},{"c":"B","t":-41,"v":-12.5},{"c":"B","t":-36,"v":-10.8},{"c":"B","t":-31,"v":-12.5},{"c":"B","t":-26,"v":-17},{"c":"B","t":-20,"v":-25},{"c":"B","t":-3,"v":-25},{"c":"B","t":0,"v":-21.9},{"c":"B","t":5,"v":-20.8},{"c":"B","t":10,"v":-19.4},{"c":"B","t":15,"v":-17.3},{"c":"B","t":20,"v":-14.7},{"c":"B","t":23,"v":-12.4},{"c":"B","t":26,"v":-9},{"c":"B","t":28,"v":-6.5},{"c":"B","t":31,"v":-4.4},{"c":"B","t":35,"v":-3.6},{"c":"B","t":45,"v":-2.7},{"c":"B","t":55,"v":-2.3},{"c":"B","t":65,"v":-2.4},{"c":"B","t":75,"v":-2.8},{"c":"B","t":85,"v":-3.5},{"c":"B","t":92,"v":-4.4},{"c":"B","t":98,"v":-6.4},{"c":"B","t":104,"v":-8.1},{"c":"B","t":110,"v":-8.8},{"c":"B","t":120,"v":-8.4},{"c":"B","t":130,"v":-7.1},{"c":"B","t":140,"v":-6.4},{"c":"B","t":146,"v":-6.4},{"c":"B","t":149,"v":-13},{"c":"B","t":151,"v":-25},{"c":"B","t":183,"v":-25},{"c":"B","t":189,"v":-20},{"c":"B","t":195,"v":-17},{"c":"B","t":201,"v":-20},{"c":"B","t":207,"v":-25},
{"c":"Bm","t":118,"v":-25},{"c":"Bm","t":114,"v":-15},{"c":"Bm","t":110,"v":-10.5},{"c":"Bm","t":100,"v":-9.8},{"c":"Bm","t":90,"v":-10.5},{"c":"Bm","t":86,"v":-13},{"c":"Bm","t":83,"v":-20},{"c":"Bm","t":80,"v":-25},{"c":"Bm","t":52,"v":-25},{"c":"Bm","t":46,"v":-17},{"c":"Bm","t":41,"v":-12.5},{"c":"Bm","t":36,"v":-10.8},{"c":"Bm","t":31,"v":-12.5},{"c":"Bm","t":26,"v":-17},{"c":"Bm","t":20,"v":-25},{"c":"Bm","t":3,"v":-25},{"c":"Bm","t":0,"v":-21.9},{"c":"Bm","t":-5,"v":-20.8},{"c":"Bm","t":-10,"v":-19.4},{"c":"Bm","t":-15,"v":-17.3},{"c":"Bm","t":-20,"v":-14.7},{"c":"Bm","t":-23,"v":-12.4},{"c":"Bm","t":-26,"v":-9},{"c":"Bm","t":-28,"v":-6.5},{"c":"Bm","t":-31,"v":-4.4},{"c":"Bm","t":-35,"v":-3.6},{"c":"Bm","t":-45,"v":-2.7},{"c":"Bm","t":-55,"v":-2.3},{"c":"Bm","t":-65,"v":-2.4},{"c":"Bm","t":-75,"v":-2.8},{"c":"Bm","t":-85,"v":-3.5},{"c":"Bm","t":-92,"v":-4.4},{"c":"Bm","t":-98,"v":-6.4},{"c":"Bm","t":-104,"v":-8.1},{"c":"Bm","t":-110,"v":-8.8},{"c":"Bm","t":-120,"v":-8.4},{"c":"Bm","t":-130,"v":-7.1},{"c":"Bm","t":-140,"v":-6.4},{"c":"Bm","t":-146,"v":-6.4},{"c":"Bm","t":-149,"v":-13},{"c":"Bm","t":-151,"v":-25},{"c":"Bm","t":-183,"v":-25},{"c":"Bm","t":-189,"v":-20},{"c":"Bm","t":-195,"v":-17},{"c":"Bm","t":-201,"v":-20},{"c":"Bm","t":-207,"v":-25},
{"c":"C","t":20,"v":-25},{"c":"C","t":25,"v":-20},{"c":"C","t":29,"v":-17.5},{"c":"C","t":33,"v":-16.7},{"c":"C","t":36,"v":-18},{"c":"C","t":40,"v":-17.7},{"c":"C","t":50,"v":-16.3},{"c":"C","t":60,"v":-13.8},{"c":"C","t":65,"v":-11.8},{"c":"C","t":69,"v":-9.4},{"c":"C","t":75,"v":-7.8},{"c":"C","t":82,"v":-5.5},{"c":"C","t":90,"v":-2.7},{"c":"C","t":100,"v":-1.4},{"c":"C","t":110,"v":-1.2},{"c":"C","t":120,"v":-1},{"c":"C","t":130,"v":-0.8},{"c":"C","t":143,"v":-0.8},{"c":"C","t":155,"v":-1},{"c":"C","t":165,"v":-1.5},{"c":"C","t":180,"v":-2.1},{"c":"C","t":195,"v":-3},{"c":"C","t":210,"v":-5},{"c":"C","t":225,"v":-5.4},{"c":"C","t":237,"v":-5.1},{"c":"C","t":244,"v":-6.5},{"c":"C","t":248,"v":-8.4},{"c":"C","t":252,"v":-7.6},{"c":"C","t":258,"v":-7.4},{"c":"C","t":265,"v":-7.5},{"c":"C","t":272,"v":-7.6},{"c":"C","t":275,"v":-15},{"c":"C","t":278,"v":-25},
{"c":"Cm","t":-20,"v":-25},{"c":"Cm","t":-25,"v":-20},{"c":"Cm","t":-29,"v":-17.5},{"c":"Cm","t":-33,"v":-16.7},{"c":"Cm","t":-36,"v":-18},{"c":"Cm","t":-40,"v":-17.7},{"c":"Cm","t":-50,"v":-16.3},{"c":"Cm","t":-60,"v":-13.8},{"c":"Cm","t":-65,"v":-11.8},{"c":"Cm","t":-69,"v":-9.4},{"c":"Cm","t":-75,"v":-7.8},{"c":"Cm","t":-82,"v":-5.5},{"c":"Cm","t":-90,"v":-2.7},{"c":"Cm","t":-100,"v":-1.4},{"c":"Cm","t":-110,"v":-1.2},{"c":"Cm","t":-120,"v":-1},{"c":"Cm","t":-130,"v":-0.8},{"c":"Cm","t":-143,"v":-0.8},{"c":"Cm","t":-155,"v":-1},{"c":"Cm","t":-165,"v":-1.5},{"c":"Cm","t":-180,"v":-2.1},{"c":"Cm","t":-195,"v":-3},{"c":"Cm","t":-210,"v":-5},{"c":"Cm","t":-225,"v":-5.4},{"c":"Cm","t":-237,"v":-5.1},{"c":"Cm","t":-244,"v":-6.5},{"c":"Cm","t":-248,"v":-8.4},{"c":"Cm","t":-252,"v":-7.6},{"c":"Cm","t":-258,"v":-7.4},{"c":"Cm","t":-265,"v":-7.5},{"c":"Cm","t":-272,"v":-7.6},{"c":"Cm","t":-275,"v":-15},{"c":"Cm","t":-278,"v":-25}
  ]
},
"columns": 2,
"spacing": {"row": 95.5, "column": 96},
"bounds": "flush",
"concat": [
 {"width": 403, "height": 403, "resolve": {"axis": {"x": "independent", "y": "independent"}},
  "layer": [
   {"data": {"name": "rings"}, "mark": {"type": "point", "shape": "circle", "filled": false, "opacity": 1, "stroke": "#000000", "strokeWidth": 0.9, "strokeDash": [1, 2]},
    "encoding": {"x": {"datum": 0, "type": "quantitative", "axis": null, "scale": {"domain": [-25, 25], "nice": false, "zero": false}}, "y": {"datum": 0, "type": "quantitative", "axis": null, "scale": {"domain": [-25, 25], "nice": false, "zero": false}}, "size": {"field": "r", "type": "quantitative", "legend": null, "scale": {"type": "pow", "exponent": 2, "domain": [0, 25], "range": [0, 162409]}}}},
   {"data": {"name": "spokes"}, "transform": [{"filter": "datum.y1 != 0 || datum.y2 != 0"}], "mark": {"type": "rule", "stroke": "#555555", "strokeWidth": 0.9, "strokeDash": [1, 2]},
    "encoding": {"x": {"field": "x1", "type": "quantitative", "scale": {"domain": [-25, 25], "nice": false, "zero": false}, "axis": {"orient": "bottom", "values": [-25,-20,-15,-10,-5,0,5,10,15,20,25], "labelExpr": "format(abs(datum.value) - 25, 'd')", "title": "Directivities at 100 Hz"}},
     "y": {"field": "y1", "type": "quantitative", "scale": {"domain": [-25, 25], "nice": false, "zero": false}, "axis": {"orient": "left", "values": [-25,-20,-15,-10,-5,0,5,10,15,20,25], "labelExpr": "format(abs(datum.value) - 25, 'd')", "title": null}},
     "x2": {"field": "x2"}, "y2": {"field": "y2"}}},
   {"data": {"name": "spokes"}, "transform": [{"filter": "datum.y1 == 0 && datum.y2 == 0"}], "mark": {"type": "rule", "stroke": "#000000", "strokeWidth": 0.9, "strokeDash": [1, 2]},
    "encoding": {"x": {"field": "x1", "type": "quantitative", "scale": {"domain": [-25, 25], "nice": false, "zero": false}, "axis": {"orient": "top", "values": [-25,-20,-15,-10,-5,0,5,10,15,20,25], "labels": false, "title": null}},
     "y": {"field": "y1", "type": "quantitative", "scale": {"domain": [-25, 25], "nice": false, "zero": false}, "axis": {"orient": "right", "values": [-25,-20,-15,-10,-5,0,5,10,15,20,25], "labels": false, "title": null}},
     "x2": {"field": "x2"}, "y2": {"field": "y2"}}},
   {"data": {"name": "d100"}, "transform": [{"calculate": "max(0, datum.v + 25)", "as": "r"}, {"calculate": "datum.r * sin(datum.t * PI / 180)", "as": "x"}, {"calculate": "datum.r * cos(datum.t * PI / 180)", "as": "y"}],
    "mark": {"type": "line", "strokeWidth": 2, "interpolate": "catmull-rom"},
    "encoding": {"x": {"field": "x", "type": "quantitative", "axis": null, "scale": {"domain": [-25, 25], "nice": false, "zero": false}}, "y": {"field": "y", "type": "quantitative", "axis": null, "scale": {"domain": [-25, 25], "nice": false, "zero": false}},
     "color": {"field": "c", "type": "nominal", "legend": null, "scale": {"domain": ["A","B","Bm","C","Cm"], "range": ["#000000","#3c3c3c","#6c6c6c","#aaaaaa","#888888"]}},
     "order": {"field": "t", "type": "quantitative"}}}
  ]},
 {"width": 403, "height": 403, "resolve": {"axis": {"x": "independent", "y": "independent"}},
  "layer": [
   {"data": {"name": "rings"}, "mark": {"type": "point", "shape": "circle", "filled": false, "opacity": 1, "stroke": "#000000", "strokeWidth": 0.9, "strokeDash": [1, 2]},
    "encoding": {"x": {"datum": 0, "type": "quantitative", "axis": null, "scale": {"domain": [-25, 25], "nice": false, "zero": false}}, "y": {"datum": 0, "type": "quantitative", "axis": null, "scale": {"domain": [-25, 25], "nice": false, "zero": false}}, "size": {"field": "r", "type": "quantitative", "legend": null, "scale": {"type": "pow", "exponent": 2, "domain": [0, 25], "range": [0, 162409]}}}},
   {"data": {"name": "spokes"}, "transform": [{"filter": "datum.y1 != 0 || datum.y2 != 0"}], "mark": {"type": "rule", "stroke": "#555555", "strokeWidth": 0.9, "strokeDash": [1, 2]},
    "encoding": {"x": {"field": "x1", "type": "quantitative", "scale": {"domain": [-25, 25], "nice": false, "zero": false}, "axis": {"orient": "bottom", "values": [-25,-20,-15,-10,-5,0,5,10,15,20,25], "labelExpr": "format(abs(datum.value) - 25, 'd')", "title": "Directivities at 200 Hz"}},
     "y": {"field": "y1", "type": "quantitative", "scale": {"domain": [-25, 25], "nice": false, "zero": false}, "axis": {"orient": "left", "values": [-25,-20,-15,-10,-5,0,5,10,15,20,25], "labelExpr": "format(abs(datum.value) - 25, 'd')", "title": null}},
     "x2": {"field": "x2"}, "y2": {"field": "y2"}}},
   {"data": {"name": "spokes"}, "transform": [{"filter": "datum.y1 == 0 && datum.y2 == 0"}], "mark": {"type": "rule", "stroke": "#000000", "strokeWidth": 0.9, "strokeDash": [1, 2]},
    "encoding": {"x": {"field": "x1", "type": "quantitative", "scale": {"domain": [-25, 25], "nice": false, "zero": false}, "axis": {"orient": "top", "values": [-25,-20,-15,-10,-5,0,5,10,15,20,25], "labels": false, "title": null}},
     "y": {"field": "y1", "type": "quantitative", "scale": {"domain": [-25, 25], "nice": false, "zero": false}, "axis": {"orient": "right", "values": [-25,-20,-15,-10,-5,0,5,10,15,20,25], "labels": false, "title": null}},
     "x2": {"field": "x2"}, "y2": {"field": "y2"}}},
   {"data": {"name": "d200"}, "transform": [{"calculate": "max(0, datum.v + 25)", "as": "r"}, {"calculate": "datum.r * sin(datum.t * PI / 180)", "as": "x"}, {"calculate": "datum.r * cos(datum.t * PI / 180)", "as": "y"}],
    "mark": {"type": "line", "strokeWidth": 2, "interpolate": "catmull-rom"},
    "encoding": {"x": {"field": "x", "type": "quantitative", "axis": null, "scale": {"domain": [-25, 25], "nice": false, "zero": false}}, "y": {"field": "y", "type": "quantitative", "axis": null, "scale": {"domain": [-25, 25], "nice": false, "zero": false}},
     "color": {"field": "c", "type": "nominal", "legend": null, "scale": {"domain": ["A","B","Bm","C","Cm"], "range": ["#000000","#3c3c3c","#6c6c6c","#aaaaaa","#888888"]}},
     "order": {"field": "t", "type": "quantitative"}}}
  ]},
 {"width": 403, "height": 403, "resolve": {"axis": {"x": "independent", "y": "independent"}},
  "layer": [
   {"data": {"name": "rings"}, "mark": {"type": "point", "shape": "circle", "filled": false, "opacity": 1, "stroke": "#000000", "strokeWidth": 0.9, "strokeDash": [1, 2]},
    "encoding": {"x": {"datum": 0, "type": "quantitative", "axis": null, "scale": {"domain": [-25, 25], "nice": false, "zero": false}}, "y": {"datum": 0, "type": "quantitative", "axis": null, "scale": {"domain": [-25, 25], "nice": false, "zero": false}}, "size": {"field": "r", "type": "quantitative", "legend": null, "scale": {"type": "pow", "exponent": 2, "domain": [0, 25], "range": [0, 162409]}}}},
   {"data": {"name": "spokes"}, "transform": [{"filter": "datum.y1 != 0 || datum.y2 != 0"}], "mark": {"type": "rule", "stroke": "#555555", "strokeWidth": 0.9, "strokeDash": [1, 2]},
    "encoding": {"x": {"field": "x1", "type": "quantitative", "scale": {"domain": [-25, 25], "nice": false, "zero": false}, "axis": {"orient": "bottom", "values": [-25,-20,-15,-10,-5,0,5,10,15,20,25], "labelExpr": "format(abs(datum.value) - 25, 'd')", "title": "Directivities at 500 Hz"}},
     "y": {"field": "y1", "type": "quantitative", "scale": {"domain": [-25, 25], "nice": false, "zero": false}, "axis": {"orient": "left", "values": [-25,-20,-15,-10,-5,0,5,10,15,20,25], "labelExpr": "format(abs(datum.value) - 25, 'd')", "title": null}},
     "x2": {"field": "x2"}, "y2": {"field": "y2"}}},
   {"data": {"name": "spokes"}, "transform": [{"filter": "datum.y1 == 0 && datum.y2 == 0"}], "mark": {"type": "rule", "stroke": "#000000", "strokeWidth": 0.9, "strokeDash": [1, 2]},
    "encoding": {"x": {"field": "x1", "type": "quantitative", "scale": {"domain": [-25, 25], "nice": false, "zero": false}, "axis": {"orient": "top", "values": [-25,-20,-15,-10,-5,0,5,10,15,20,25], "labels": false, "title": null}},
     "y": {"field": "y1", "type": "quantitative", "scale": {"domain": [-25, 25], "nice": false, "zero": false}, "axis": {"orient": "right", "values": [-25,-20,-15,-10,-5,0,5,10,15,20,25], "labels": false, "title": null}},
     "x2": {"field": "x2"}, "y2": {"field": "y2"}}},
   {"data": {"name": "d500"}, "transform": [{"calculate": "max(0, datum.v + 25)", "as": "r"}, {"calculate": "datum.r * sin(datum.t * PI / 180)", "as": "x"}, {"calculate": "datum.r * cos(datum.t * PI / 180)", "as": "y"}],
    "mark": {"type": "line", "strokeWidth": 2, "interpolate": "catmull-rom"},
    "encoding": {"x": {"field": "x", "type": "quantitative", "axis": null, "scale": {"domain": [-25, 25], "nice": false, "zero": false}}, "y": {"field": "y", "type": "quantitative", "axis": null, "scale": {"domain": [-25, 25], "nice": false, "zero": false}},
     "color": {"field": "c", "type": "nominal", "legend": null, "scale": {"domain": ["A","B","Bm","C","Cm"], "range": ["#000000","#3c3c3c","#6c6c6c","#aaaaaa","#888888"]}},
     "order": {"field": "t", "type": "quantitative"}}}
  ]},
 {"width": 403, "height": 403, "resolve": {"axis": {"x": "independent", "y": "independent"}},
  "layer": [
   {"data": {"name": "rings"}, "mark": {"type": "point", "shape": "circle", "filled": false, "opacity": 1, "stroke": "#000000", "strokeWidth": 0.9, "strokeDash": [1, 2]},
    "encoding": {"x": {"datum": 0, "type": "quantitative", "axis": null, "scale": {"domain": [-25, 25], "nice": false, "zero": false}}, "y": {"datum": 0, "type": "quantitative", "axis": null, "scale": {"domain": [-25, 25], "nice": false, "zero": false}}, "size": {"field": "r", "type": "quantitative", "legend": null, "scale": {"type": "pow", "exponent": 2, "domain": [0, 25], "range": [0, 162409]}}}},
   {"data": {"name": "spokes"}, "transform": [{"filter": "datum.y1 != 0 || datum.y2 != 0"}], "mark": {"type": "rule", "stroke": "#555555", "strokeWidth": 0.9, "strokeDash": [1, 2]},
    "encoding": {"x": {"field": "x1", "type": "quantitative", "scale": {"domain": [-25, 25], "nice": false, "zero": false}, "axis": {"orient": "bottom", "values": [-25,-20,-15,-10,-5,0,5,10,15,20,25], "labelExpr": "format(abs(datum.value) - 25, 'd')", "title": "Directivities at 1 kHz"}},
     "y": {"field": "y1", "type": "quantitative", "scale": {"domain": [-25, 25], "nice": false, "zero": false}, "axis": {"orient": "left", "values": [-25,-20,-15,-10,-5,0,5,10,15,20,25], "labelExpr": "format(abs(datum.value) - 25, 'd')", "title": null}},
     "x2": {"field": "x2"}, "y2": {"field": "y2"}}},
   {"data": {"name": "spokes"}, "transform": [{"filter": "datum.y1 == 0 && datum.y2 == 0"}], "mark": {"type": "rule", "stroke": "#000000", "strokeWidth": 0.9, "strokeDash": [1, 2]},
    "encoding": {"x": {"field": "x1", "type": "quantitative", "scale": {"domain": [-25, 25], "nice": false, "zero": false}, "axis": {"orient": "top", "values": [-25,-20,-15,-10,-5,0,5,10,15,20,25], "labels": false, "title": null}},
     "y": {"field": "y1", "type": "quantitative", "scale": {"domain": [-25, 25], "nice": false, "zero": false}, "axis": {"orient": "right", "values": [-25,-20,-15,-10,-5,0,5,10,15,20,25], "labels": false, "title": null}},
     "x2": {"field": "x2"}, "y2": {"field": "y2"}}},
   {"data": {"name": "d1k"}, "transform": [{"calculate": "max(0, datum.v + 25)", "as": "r"}, {"calculate": "datum.r * sin(datum.t * PI / 180)", "as": "x"}, {"calculate": "datum.r * cos(datum.t * PI / 180)", "as": "y"}],
    "mark": {"type": "line", "strokeWidth": 2, "interpolate": "catmull-rom"},
    "encoding": {"x": {"field": "x", "type": "quantitative", "axis": null, "scale": {"domain": [-25, 25], "nice": false, "zero": false}}, "y": {"field": "y", "type": "quantitative", "axis": null, "scale": {"domain": [-25, 25], "nice": false, "zero": false}},
     "color": {"field": "c", "type": "nominal", "legend": null, "scale": {"domain": ["A","B","Bm","C","Cm"], "range": ["#000000","#3c3c3c","#6c6c6c","#aaaaaa","#888888"]}},
     "order": {"field": "t", "type": "quantitative"}}}
  ]},
 {"width": 403, "height": 403, "resolve": {"axis": {"x": "independent", "y": "independent"}},
  "layer": [
   {"data": {"name": "rings"}, "mark": {"type": "point", "shape": "circle", "filled": false, "opacity": 1, "stroke": "#000000", "strokeWidth": 0.9, "strokeDash": [1, 2]},
    "encoding": {"x": {"datum": 0, "type": "quantitative", "axis": null, "scale": {"domain": [-25, 25], "nice": false, "zero": false}}, "y": {"datum": 0, "type": "quantitative", "axis": null, "scale": {"domain": [-25, 25], "nice": false, "zero": false}}, "size": {"field": "r", "type": "quantitative", "legend": null, "scale": {"type": "pow", "exponent": 2, "domain": [0, 25], "range": [0, 162409]}}}},
   {"data": {"name": "spokes"}, "transform": [{"filter": "datum.y1 != 0 || datum.y2 != 0"}], "mark": {"type": "rule", "stroke": "#555555", "strokeWidth": 0.9, "strokeDash": [1, 2]},
    "encoding": {"x": {"field": "x1", "type": "quantitative", "scale": {"domain": [-25, 25], "nice": false, "zero": false}, "axis": {"orient": "bottom", "values": [-25,-20,-15,-10,-5,0,5,10,15,20,25], "labelExpr": "format(abs(datum.value) - 25, 'd')", "title": "Directivities at 2 kHz"}},
     "y": {"field": "y1", "type": "quantitative", "scale": {"domain": [-25, 25], "nice": false, "zero": false}, "axis": {"orient": "left", "values": [-25,-20,-15,-10,-5,0,5,10,15,20,25], "labelExpr": "format(abs(datum.value) - 25, 'd')", "title": null}},
     "x2": {"field": "x2"}, "y2": {"field": "y2"}}},
   {"data": {"name": "spokes"}, "transform": [{"filter": "datum.y1 == 0 && datum.y2 == 0"}], "mark": {"type": "rule", "stroke": "#000000", "strokeWidth": 0.9, "strokeDash": [1, 2]},
    "encoding": {"x": {"field": "x1", "type": "quantitative", "scale": {"domain": [-25, 25], "nice": false, "zero": false}, "axis": {"orient": "top", "values": [-25,-20,-15,-10,-5,0,5,10,15,20,25], "labels": false, "title": null}},
     "y": {"field": "y1", "type": "quantitative", "scale": {"domain": [-25, 25], "nice": false, "zero": false}, "axis": {"orient": "right", "values": [-25,-20,-15,-10,-5,0,5,10,15,20,25], "labels": false, "title": null}},
     "x2": {"field": "x2"}, "y2": {"field": "y2"}}},
   {"data": {"name": "d2k"}, "transform": [{"calculate": "max(0, datum.v + 25)", "as": "r"}, {"calculate": "datum.r * sin(datum.t * PI / 180)", "as": "x"}, {"calculate": "datum.r * cos(datum.t * PI / 180)", "as": "y"}],
    "mark": {"type": "line", "strokeWidth": 2, "interpolate": "catmull-rom"},
    "encoding": {"x": {"field": "x", "type": "quantitative", "axis": null, "scale": {"domain": [-25, 25], "nice": false, "zero": false}}, "y": {"field": "y", "type": "quantitative", "axis": null, "scale": {"domain": [-25, 25], "nice": false, "zero": false}},
     "color": {"field": "c", "type": "nominal", "legend": null, "scale": {"domain": ["A","B","Bm","C","Cm"], "range": ["#000000","#3c3c3c","#6c6c6c","#aaaaaa","#888888"]}},
     "order": {"field": "t", "type": "quantitative"}}}
  ]},
 {"width": 403, "height": 403, "resolve": {"axis": {"x": "independent", "y": "independent"}},
  "layer": [
   {"data": {"name": "rings"}, "mark": {"type": "point", "shape": "circle", "filled": false, "opacity": 1, "stroke": "#000000", "strokeWidth": 0.9, "strokeDash": [1, 2]},
    "encoding": {"x": {"datum": 0, "type": "quantitative", "axis": null, "scale": {"domain": [-25, 25], "nice": false, "zero": false}}, "y": {"datum": 0, "type": "quantitative", "axis": null, "scale": {"domain": [-25, 25], "nice": false, "zero": false}}, "size": {"field": "r", "type": "quantitative", "legend": null, "scale": {"type": "pow", "exponent": 2, "domain": [0, 25], "range": [0, 162409]}}}},
   {"data": {"name": "spokes"}, "transform": [{"filter": "datum.y1 != 0 || datum.y2 != 0"}], "mark": {"type": "rule", "stroke": "#555555", "strokeWidth": 0.9, "strokeDash": [1, 2]},
    "encoding": {"x": {"field": "x1", "type": "quantitative", "scale": {"domain": [-25, 25], "nice": false, "zero": false}, "axis": {"orient": "bottom", "values": [-25,-20,-15,-10,-5,0,5,10,15,20,25], "labelExpr": "format(abs(datum.value) - 25, 'd')", "title": "Directivities at 5 kHz"}},
     "y": {"field": "y1", "type": "quantitative", "scale": {"domain": [-25, 25], "nice": false, "zero": false}, "axis": {"orient": "left", "values": [-25,-20,-15,-10,-5,0,5,10,15,20,25], "labelExpr": "format(abs(datum.value) - 25, 'd')", "title": null}},
     "x2": {"field": "x2"}, "y2": {"field": "y2"}}},
   {"data": {"name": "spokes"}, "transform": [{"filter": "datum.y1 == 0 && datum.y2 == 0"}], "mark": {"type": "rule", "stroke": "#000000", "strokeWidth": 0.9, "strokeDash": [1, 2]},
    "encoding": {"x": {"field": "x1", "type": "quantitative", "scale": {"domain": [-25, 25], "nice": false, "zero": false}, "axis": {"orient": "top", "values": [-25,-20,-15,-10,-5,0,5,10,15,20,25], "labels": false, "title": null}},
     "y": {"field": "y1", "type": "quantitative", "scale": {"domain": [-25, 25], "nice": false, "zero": false}, "axis": {"orient": "right", "values": [-25,-20,-15,-10,-5,0,5,10,15,20,25], "labels": false, "title": null}},
     "x2": {"field": "x2"}, "y2": {"field": "y2"}}},
   {"data": {"name": "d5k"}, "transform": [{"calculate": "max(0, datum.v + 25)", "as": "r"}, {"calculate": "datum.r * sin(datum.t * PI / 180)", "as": "x"}, {"calculate": "datum.r * cos(datum.t * PI / 180)", "as": "y"}],
    "mark": {"type": "line", "strokeWidth": 2, "interpolate": "catmull-rom"},
    "encoding": {"x": {"field": "x", "type": "quantitative", "axis": null, "scale": {"domain": [-25, 25], "nice": false, "zero": false}}, "y": {"field": "y", "type": "quantitative", "axis": null, "scale": {"domain": [-25, 25], "nice": false, "zero": false}},
     "color": {"field": "c", "type": "nominal", "legend": null, "scale": {"domain": ["A","B","Bm","C","Cm"], "range": ["#000000","#3c3c3c","#6c6c6c","#aaaaaa","#888888"]}},
     "order": {"field": "t", "type": "quantitative"}}}
  ]}
]
}
